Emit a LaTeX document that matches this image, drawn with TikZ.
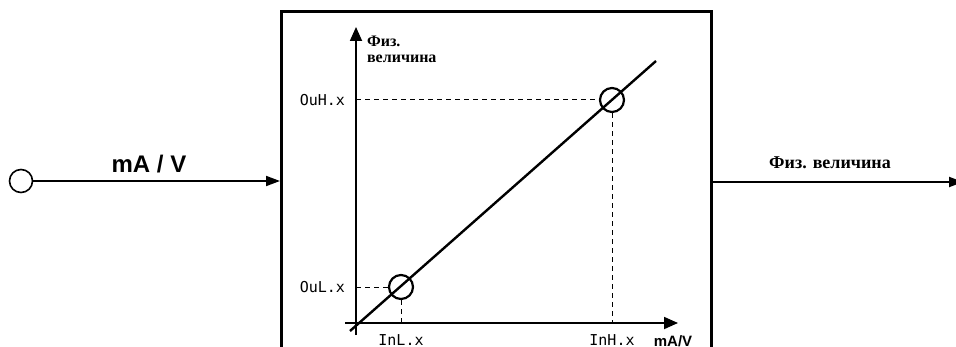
\documentclass[tikz,border=0pt]{standalone}
\usepackage{fontspec}
\setmainfont{Liberation Serif}
\setsansfont{Liberation Sans}
\newfontfamily\segfont{DejaVu Sans Mono}
\usetikzlibrary{arrows.meta}

\begin{document}
\begin{tikzpicture}[x=0.5pt, y=-0.5pt,
    frame/.style={rectangle, draw, line width=1.5pt, minimum width=215pt, minimum height=180pt, anchor=north west, inner sep=0pt},
    port/.style={circle, draw, line width=0.8pt, minimum size=11.5pt, inner sep=0pt},
    pointmark/.style={circle, draw, line width=1.1pt, minimum size=12pt, inner sep=0pt},
    axis/.style={-{Triangle[length=7pt, width=6pt]}, line width=0.9pt},
    arrow/.style={-{Triangle[length=7pt, width=5pt]}, line width=0.9pt},
    guide/.style={dash pattern=on 2.5pt off 2pt, line width=0.5pt},
    seg/.style={font=\segfont\fontsize{7.5}{8}\selectfont},
    ruslabel/.style={font=\bfseries\fontsize{8}{9}\selectfont, align=left},
    unitlabel/.style={font=\sffamily\bfseries\fontsize{12}{14}\selectfont}
]
\clip (0,0) rectangle (956,347);

\node[port] (inp) at (21,181) {};
\node[frame] (conv) at (280,10) {};
\coordinate (outend) at (963,182);

\draw[arrow] (inp) -- (inp -| conv.west);
\draw[arrow, line width=1pt] (conv.east |- outend) -- (outend);
\node[unitlabel] (inunit) at (149,164) {mA / V};
\node[ruslabel, font=\bfseries\fontsize{9}{10}\selectfont] (outunit) at (830,163) {Физ. величина};

% characteristic
\coordinate (orig) at (356,323);
\draw[axis] (345,323) -- (678,323);
\draw[axis] (356,335) -- (356,27);
\node[ruslabel, anchor=north west] (yname) at (360,29) {Физ.\\[-1pt]величина};
\node[unitlabel, font=\sffamily\bfseries\fontsize{7.5}{9}\selectfont] (xname) at (673,341) {mA/V};

\node[pointmark] (lo) at (401,287) {};
\node[pointmark] (hi) at (612,100) {};
\draw[line width=1.2pt] (350,331) -- (656,61);

\draw[guide] (orig |- lo) -- (lo.west);
\draw[guide] (lo.south) -- (lo |- orig);
\draw[guide] (orig |- hi) -- (hi.west);
\draw[guide] (hi.south) -- (hi |- orig);

\node[seg, anchor=east] (ouh) at (352,100) {OuH.x};
\node[seg, anchor=east] (oul) at (352,287) {OuL.x};
\node[seg] (inl) at (401,340) {InL.x};
\node[seg] (inh) at (612,340) {InH.x};
\end{tikzpicture}
\end{document}
